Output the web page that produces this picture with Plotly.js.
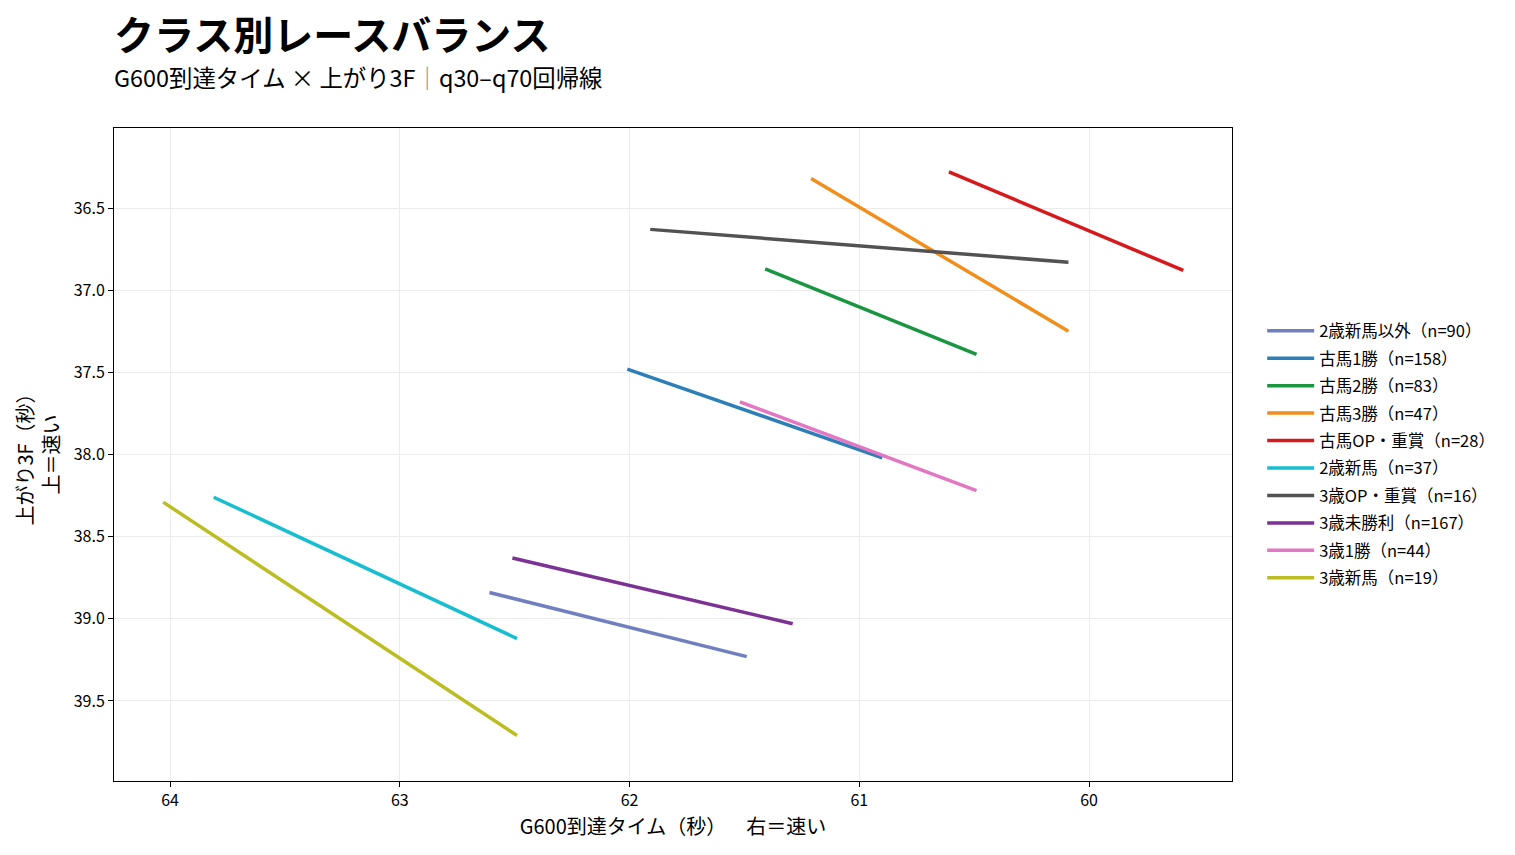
<!DOCTYPE html>
<html>
<head>
<meta charset="utf-8">
<script src="https://cdn.plot.ly/plotly-3.0.1.min.js"></script>
<style>
  html, body { margin: 0; padding: 0; background: #fff; }
  #myDiv { width: 1515px; height: 855px; }
</style>
</head>
<body>
<div id="myDiv"></div>
<script>
// class groups and sample counts
var classes = ['2歳新馬以外', '古馬1勝', '古馬2勝', '古馬3勝', '古馬OP・重賞',
               '2歳新馬', '3歳OP・重賞', '3歳未勝利', '3歳1勝', '3歳新馬'];
var counts = [90, 158, 83, 47, 28, 37, 16, 167, 44, 19];

// regression line ends: G600 time (sec) at q30 / q70 and fitted last-3F (sec)
var g600Start = [62.61, 62.01, 61.41, 61.21, 60.61, 63.81, 61.91, 62.51, 61.52, 64.03];
var g600End   = [61.49, 60.90, 60.49, 60.09, 59.59, 62.49, 60.09, 61.29, 60.49, 62.49];
var last3fStart = [38.84, 37.48, 36.87, 36.32, 36.28, 38.26, 36.63, 38.63, 37.68, 38.29];
var last3fEnd   = [39.23, 38.02, 37.39, 37.25, 36.88, 39.12, 36.83, 39.03, 38.22, 39.71];

var colors = ['#6f7fbf', '#2c7fb8', '#1a9641', '#f28e1c', '#d7191c',
              '#17becf', '#525252', '#7b3294', '#e377c2', '#bcbd22'];

var FONT = '"Noto Sans CJK JP", "Noto Sans", sans-serif';

var data = classes.map(function (c, i) {
  return {
    x: [g600Start[i], g600End[i]],
    y: [last3fStart[i], last3fEnd[i]],
    mode: 'lines',
    type: 'scatter',
    name: c + '（n=' + counts[i] + '）',
    legendgroup: 'g' + i,
    line: {color: colors[i], width: 3.5},
    hoverinfo: 'name'
  };
});

var layout = {
  width: 1515,
  height: 855,
  margin: {l: 114, r: 283, t: 128, b: 74, pad: 0},
  paper_bgcolor: '#fff',
  plot_bgcolor: '#fff',
  font: {family: FONT, size: 15, color: '#000'},
  showlegend: true,
  legend: {
    x: 1.027, xanchor: 'left',
    y: 0.5, yanchor: 'middle',
    itemwidth: 47,
    tracegroupgap: 3,
    font: {family: FONT, size: 16.5, color: '#000'},
    bgcolor: 'rgba(0,0,0,0)'
  },
  xaxis: {
    range: [64.244, 59.378],
    tickvals: [64, 63, 62, 61, 60],
    ticks: 'outside', ticklen: 5, tickcolor: '#000',
    showline: true, linecolor: '#000', linewidth: 1, mirror: true,
    showgrid: true, gridcolor: '#ebebeb', zeroline: false,
    tickfont: {size: 16},
    title: {text: 'G600到達タイム（秒）\u3000\u2002右＝速い', font: {size: 20}, standoff: 7}
  },
  yaxis: {
    range: [39.987, 36.013],
    tickvals: [36.5, 37.0, 37.5, 38.0, 38.5, 39.0, 39.5],
    ticktext: ['36.5', '37.0', '37.5', '38.0', '38.5', '39.0', '39.5'],
    ticks: 'outside', ticklen: 5, tickcolor: '#000',
    showline: true, linecolor: '#000', linewidth: 1, mirror: true,
    showgrid: true, gridcolor: '#ebebeb', zeroline: false,
    tickfont: {size: 16},
    title: {text: '上がり3F（秒）<br>上＝速い', font: {size: 20}, standoff: 8}
  },
  annotations: [
    {
      xref: 'paper', yref: 'paper', x: -0.002, y: 1.145,
      xanchor: 'left', yanchor: 'middle', showarrow: false,
      text: '<b>クラス別レースバランス</b>',
      font: {family: FONT, size: 40, color: '#000'}
    },
    {
      xref: 'paper', yref: 'paper', x: -0.002, y: 1.078,
      xanchor: 'left', yanchor: 'middle', showarrow: false,
      text: 'G600到達タイム × 上がり3F<span style="color:#888">｜</span>q30–q70回帰線',
      font: {family: FONT, size: 23.4, color: '#000'}
    }
  ]
};

Plotly.newPlot('myDiv', data, layout, {displayModeBar: false});
</script>
</body>
</html>
